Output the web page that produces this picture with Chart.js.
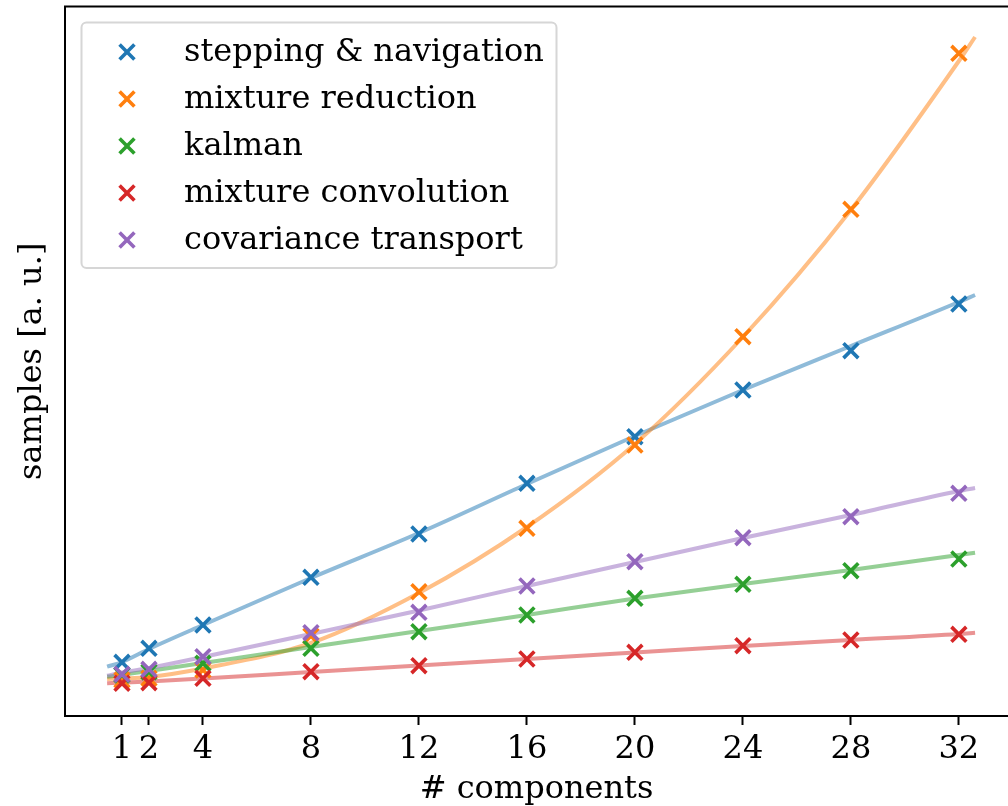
<!DOCTYPE html>
<html>
<head>
<meta charset="utf-8">
<script src="https://cdn.jsdelivr.net/npm/chart.js@4.4.1/dist/chart.umd.min.js"></script>
<style>
  html, body { margin: 0; padding: 0; background: #fff; overflow: hidden; }
  #chart { display: block; width: 1008px; height: 806px; }
</style>
</head>
<body>
<canvas id="chart" width="1008" height="806"></canvas>
<script>
// Number of mixture components at which each stage was sampled
const components = [1, 2, 4, 8, 12, 16, 20, 24, 28, 32];
const tickLabels = [1, 2, 4, 8, 12, 16, 20, 24, 28, 32];

// Measured samples per stage (arbitrary units)
const steppingNavigation   = [5.37, 6.77, 9.10, 13.87, 18.20, 23.27, 27.93, 32.60, 36.53, 41.20];
const mixtureReduction     = [3.60, 3.77, 4.60, 8.00, 12.43, 18.77, 27.10, 37.93, 50.67, 66.27];
const kalman               = [4.10, 4.40, 5.27, 6.77, 8.43, 10.10, 11.77, 13.17, 14.53, 15.70];
const mixtureConvolution   = [3.27, 3.33, 3.77, 4.43, 5.03, 5.70, 6.37, 7.03, 7.60, 8.17];
const covarianceTransport  = [4.17, 4.67, 5.93, 8.33, 10.37, 13.00, 15.43, 17.83, 19.93, 22.27];

// Fitted trend curves, sampled along the component axis
const fitX                 = [0.45, 1, 2, 4, 8, 12, 16, 20, 24, 28, 32, 32.6];
const fitStepping          = [4.93, 5.40, 6.70, 9.10, 13.80, 18.30, 23.20, 28.00, 32.60, 37.00, 41.40, 42.10];
const fitReduction         = [3.70, 3.75, 3.90, 4.75, 7.30, 12.30, 18.90, 27.20, 37.90, 50.60, 65.50, 67.90];
const fitKalman            = [3.93, 4.10, 4.50, 5.30, 6.90, 8.50, 10.10, 11.75, 13.20, 14.60, 16.10, 16.33];
const fitConvolution       = [3.27, 3.33, 3.45, 3.75, 4.40, 5.05, 5.70, 6.35, 7.00, 7.60, 8.20, 8.33];
const fitCovariance        = [4.03, 4.35, 4.80, 5.90, 8.20, 10.55, 13.00, 15.40, 17.80, 20.10, 22.50, 22.80];

const seriesNames = ['stepping & navigation', 'mixture reduction', 'kalman',
                     'mixture convolution', 'covariance transport'];
const seriesColors = ['#1f77b4', '#ff7f0e', '#2ca02c', '#d62728', '#9467bd'];
const measured = [steppingNavigation, mixtureReduction, kalman, mixtureConvolution, covarianceTransport];
const fitted = [fitStepping, fitReduction, fitKalman, fitConvolution, fitCovariance];

const FONT = "'DejaVu Serif', serif";
const MARK_R = 10.5;
const MARK_W = 3.6;

function withAlpha(hex, a) {
  const n = parseInt(hex.slice(1), 16);
  return `rgba(${(n >> 16) & 255},${(n >> 8) & 255},${n & 255},${a})`;
}

const datasets = [];
// trend lines underneath the markers
fitted.forEach((vals, i) => {
  datasets.push({
    type: 'line',
    label: seriesNames[i] + ' fit',
    data: fitX.map((x, k) => ({ x, y: vals[k] })),
    borderColor: withAlpha(seriesColors[i], 0.5),
    borderWidth: 4,
    pointRadius: 0,
    fill: false,
    cubicInterpolationMode: 'monotone',
    order: 30 - i
  });
});
// measured points as 'x' markers, later series drawn on top
measured.forEach((vals, i) => {
  datasets.push({
    type: 'scatter',
    label: seriesNames[i],
    data: components.map((x, k) => ({ x, y: vals[k] })),
    borderColor: seriesColors[i],
    backgroundColor: seriesColors[i],
    pointStyle: 'crossRot',
    pointRadius: MARK_R,
    pointHoverRadius: MARK_R,
    pointBorderWidth: MARK_W,
    showLine: false,
    order: 10 - i
  });
});

// axes frame: left, top and bottom spines (the plot runs on past the right edge)
const framePlugin = {
  id: 'frame',
  afterDraw(chart) {
    const { ctx, chartArea: a } = chart;
    ctx.save();
    ctx.strokeStyle = '#000';
    ctx.lineWidth = 2;
    ctx.beginPath();
    ctx.moveTo(a.right + 2, a.top);
    ctx.lineTo(a.left, a.top);
    ctx.lineTo(a.left, a.bottom);
    ctx.lineTo(a.right + 2, a.bottom);
    ctx.stroke();
    ctx.restore();
  }
};

// framed legend in the upper-left corner of the plot
const boxLegend = {
  id: 'boxLegend',
  afterDraw(chart) {
    const ctx = chart.ctx;
    const bx = 81.5, by = 22.5, bw = 475, bh = 245.5, r = 5;
    ctx.save();
    ctx.beginPath();
    ctx.moveTo(bx + r, by);
    ctx.arcTo(bx + bw, by, bx + bw, by + bh, r);
    ctx.arcTo(bx + bw, by + bh, bx, by + bh, r);
    ctx.arcTo(bx, by + bh, bx, by, r);
    ctx.arcTo(bx, by, bx + bw, by, r);
    ctx.closePath();
    ctx.fillStyle = 'rgba(255,255,255,0.8)';
    ctx.fill();
    ctx.strokeStyle = '#d6d6d6';
    ctx.lineWidth = 2;
    ctx.stroke();

    const rows = [52, 99, 146, 193, 240];
    ctx.font = `32px ${FONT}`;
    ctx.textBaseline = 'alphabetic';
    ctx.textAlign = 'left';
    seriesNames.forEach((name, i) => {
      ctx.strokeStyle = seriesColors[i];
      ctx.fillStyle = seriesColors[i];
      ctx.lineWidth = MARK_W;
      Chart.helpers.drawPoint(ctx, { pointStyle: 'crossRot', radius: MARK_R, borderWidth: MARK_W, rotation: 0 }, 127, rows[i]);
      ctx.fillStyle = '#000';
      ctx.fillText(name, 184, rows[i] + 9);
    });
    ctx.restore();
  }
};

new Chart(document.getElementById('chart'), {
  data: { datasets },
  options: {
    responsive: false,
    maintainAspectRatio: false,
    animation: false,
    events: [],
    layout: { autoPadding: false, padding: { top: 6.5, right: 0, left: 0, bottom: 0 } },
    plugins: { legend: { display: false }, tooltip: { enabled: false } },
    scales: {
      x: {
        type: 'linear',
        min: -1.11,
        max: 33.82,
        afterFit(s) { s.height = 90; s.paddingLeft = 0; s.paddingRight = 0; },
        afterBuildTicks(s) { s.ticks = tickLabels.map(v => ({ value: v })); },
        grid: { drawOnChartArea: false, drawTicks: true, tickLength: 9, tickWidth: 2, tickColor: '#000' },
        border: { display: true, color: '#000', width: 2 },
        ticks: { color: '#000', font: { family: FONT, size: 32 }, padding: 5, autoSkip: false, maxRotation: 0 },
        title: { display: true, text: '# components', color: '#000', font: { family: FONT, size: 32 }, padding: { top: 0, bottom: -3 } }
      },
      y: {
        type: 'linear',
        min: 0,
        max: 70.95,
        afterFit(s) { s.width = 65; s.paddingTop = 0; s.paddingBottom = 0; },
        ticks: { display: false },
        grid: { display: false, drawTicks: false },
        border: { display: true, color: '#000', width: 2 },
        title: { display: true, text: 'samples [a. u.]', color: '#000', font: { family: FONT, size: 32 }, padding: { top: 13, bottom: 0 } }
      }
    }
  },
  plugins: [framePlugin, boxLegend]
});
</script>
</body>
</html>
